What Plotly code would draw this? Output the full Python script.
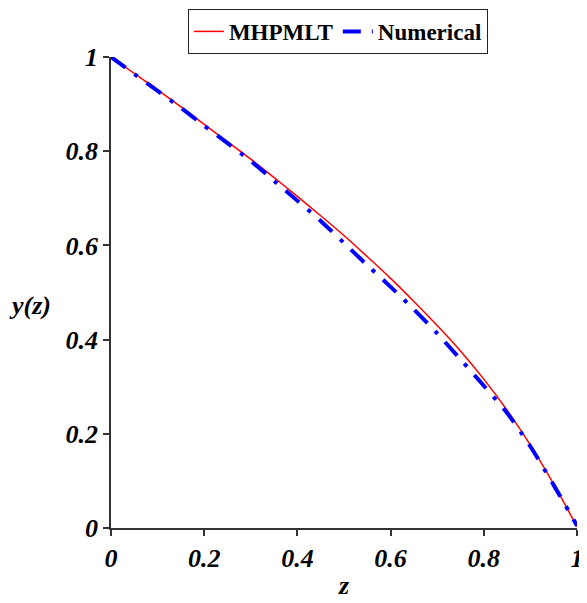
import plotly.graph_objects as go

z_values = [0.0, 0.05, 0.1, 0.15, 0.2, 0.25, 0.3, 0.35, 0.4, 0.45, 0.5,
            0.55, 0.6, 0.65, 0.7, 0.75, 0.8, 0.85, 0.9, 0.95, 1.0]
y_mhpmlt = [1.0, 0.965, 0.930, 0.894, 0.857, 0.820, 0.783, 0.744, 0.704, 0.663, 0.621,
            0.576, 0.530, 0.481, 0.430, 0.376, 0.316, 0.250, 0.176, 0.093, 0.003]
y_numerical = [1.0, 0.964, 0.928, 0.892, 0.854, 0.817, 0.779, 0.737, 0.695, 0.652, 0.605,
               0.558, 0.512, 0.464, 0.413, 0.358, 0.302, 0.244, 0.173, 0.091, 0.005]

x_ticks = [0, 0.2, 0.4, 0.6, 0.8, 1]
x_tick_labels = ["0", "0.2", "0.4", "0.6", "0.8", "1"]
y_ticks = [0, 0.2, 0.4, 0.6, 0.8, 1]
y_tick_labels = ["0", "0.2", "0.4", "0.6", "0.8", "1"]

serif = "Liberation Serif, Times New Roman, serif"
tick_font = dict(family=serif, size=26, color="black", weight="bold", style="italic")

fig = go.Figure()
fig.add_trace(go.Scatter(
    x=z_values, y=y_mhpmlt, mode="lines", name="MHPMLT",
    line=dict(color="#ff0000", width=1.5, shape="spline", smoothing=0.8),
))
fig.add_trace(go.Scatter(
    x=z_values, y=y_numerical, mode="lines", name="Numerical",
    line=dict(color="#0000ff", width=4, dash="18px,11px,4px,11px", shape="spline", smoothing=0.8),
))

fig.update_layout(
    width=579, height=595,
    margin=dict(l=103, r=9.5, t=49, b=75, autoexpand=False),
    paper_bgcolor="white", plot_bgcolor="white",
    showlegend=True,
    legend=dict(
        orientation="h", x=0.165, y=1.102, xanchor="left", yanchor="top",
        bordercolor="#222222", borderwidth=1, bgcolor="white",
        font=dict(family=serif, size=23, color="black", weight="bold"),
        itemwidth=30, tracegroupgap=0,
    ),
    xaxis=dict(
        range=[0, 1], tickvals=x_ticks, ticktext=x_tick_labels, automargin=False,
        showgrid=False, zeroline=False, showline=True, linecolor="#333333", linewidth=1.5,
        ticks="outside", ticklen=6, tickcolor="#333333", tickwidth=1.5,
        tickfont=tick_font,
    ),
    yaxis=dict(
        range=[0, 1], tickvals=y_ticks, ticktext=y_tick_labels, automargin=False,
        showgrid=False, zeroline=False, showline=True, linecolor="#333333", linewidth=1.5,
        ticks="outside", ticklen=6, tickcolor="#333333", tickwidth=1.5,
        tickfont=tick_font,
    ),
    annotations=[
        dict(text="z", x=0.5, y=-0.157, xref="paper", yref="paper",
             xanchor="center", yanchor="bottom", showarrow=False, font=tick_font),
        dict(text="y(z)", x=-0.174, y=0.473, xref="paper", yref="paper",
             xanchor="center", yanchor="middle", showarrow=False, font=tick_font),
    ],
)

fig.write_html("out.html")
